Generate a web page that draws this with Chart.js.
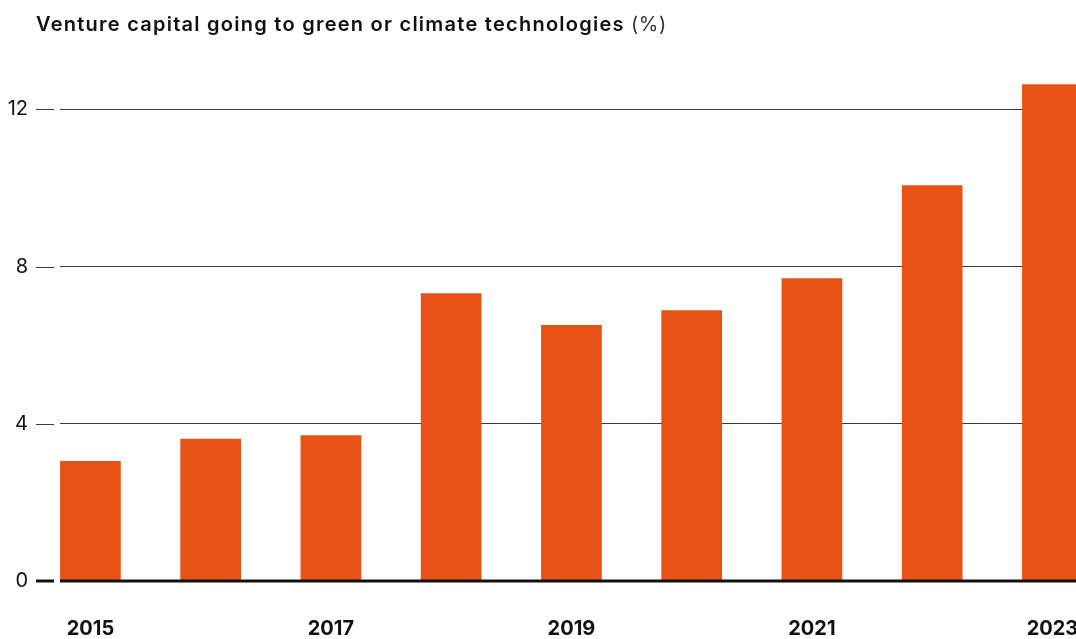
<!DOCTYPE html>
<html>
<head>
<meta charset="utf-8">
<script src="https://cdn.jsdelivr.net/npm/chart.js@4"></script>
<style>
  html, body { margin: 0; padding: 0; background: #fff; overflow: hidden; }
  #wrap { position: relative; width: 1076px; height: 639px; }
  #title {
    position: absolute; left: 36px; top: 12px;
    font-family: Inter, "Noto Sans", sans-serif; font-size: 20px; color: #111;
    font-weight: 600; letter-spacing: 1.25px; white-space: nowrap;
  }
  #title span { font-weight: 400; color: #333; letter-spacing: 0.5px; }
</style>
</head>
<body>
<div id="wrap">
  <canvas id="chart"></canvas>
  <div id="title">Venture capital going to green or climate technologies <span>(%)</span></div>
</div>
<script>
const years = ["2015", "2016", "2017", "2018", "2019", "2020", "2021", "2022", "2023"];
const vcShare = [3.05, 3.62, 3.71, 7.32, 6.51, 6.89, 7.70, 10.07, 12.64];
const yTicks = [0, 4, 8, 12];
const xTickYears = [2015, 2017, 2019, 2021, 2023];

const barColor = "#e85214";
const gridColor = "#3a3a3a";

// short dashes left of the plot + heavy zero line on top of bars
const axisMarks = {
    id: "axisMarks",
    afterDatasetsDraw(chart) {
        const { ctx, chartArea } = chart;
        const y = chart.scales.y;
        ctx.save();
        y.ticks.forEach(t => {
            const zero = t.value === 0;
            let py = y.getPixelForValue(t.value);
            py = zero ? py : Math.round(py) + 0.5;
            ctx.strokeStyle = zero ? "#111" : gridColor;
            ctx.lineWidth = zero ? 3 : 1;
            ctx.beginPath();
            ctx.moveTo(chartArea.left - 24, py);
            ctx.lineTo(chartArea.left - 6, py);
            ctx.stroke();
            if (zero) {
                ctx.beginPath();
                ctx.moveTo(chartArea.left, py);
                ctx.lineTo(chartArea.right, py);
                ctx.stroke();
            }
        });
        ctx.restore();
    }
};

new Chart(document.getElementById("chart"), {
    type: "bar",
    data: {
        datasets: [{
            data: years.map((yr, i) => ({ x: Number(yr), y: vcShare[i] })),
            backgroundColor: barColor,
            categoryPercentage: 1,
            barPercentage: 0.505
        }]
    },
    options: {
        responsive: true,
        maintainAspectRatio: false,
        animation: false,
        layout: { padding: { top: 70, left: 0, right: 0, bottom: 0 } },
        plugins: { legend: { display: false }, tooltip: { enabled: false } },
        scales: {
            x: {
                type: "linear",
                offset: false,
                min: 2014.747,
                max: 2023.196,
                afterBuildTicks: s => { s.ticks = xTickYears.map(v => ({ value: v })); },
                afterFit: s => { s.height = 58; s.paddingLeft = 0; s.paddingRight = 0; },
                grid: { display: false, drawTicks: false, offset: false },
                border: { display: false },
                ticks: {
                    padding: 36,
                    maxRotation: 0,
                    color: "#111",
                    font: { family: "Inter", size: 20, weight: "bold" },
                    callback: v => String(v)
                }
            },
            y: {
                min: 0,
                max: 13,
                afterBuildTicks: s => { s.ticks = yTicks.map(v => ({ value: v })); },
                afterFit: s => { s.width = 60; s.paddingTop = 0; s.paddingBottom = 0; },
                grid: {
                    drawTicks: false,
                    color: ctx => ctx.tick && ctx.tick.value === 0 ? "rgba(0,0,0,0)" : gridColor,
                    lineWidth: 1
                },
                border: { display: false },
                ticks: {
                    padding: 32,
                    color: "#111",
                    font: { family: "Inter", size: 20, weight: "normal" }
                }
            }
        }
    },
    plugins: [axisMarks]
});
</script>
</body>
</html>
